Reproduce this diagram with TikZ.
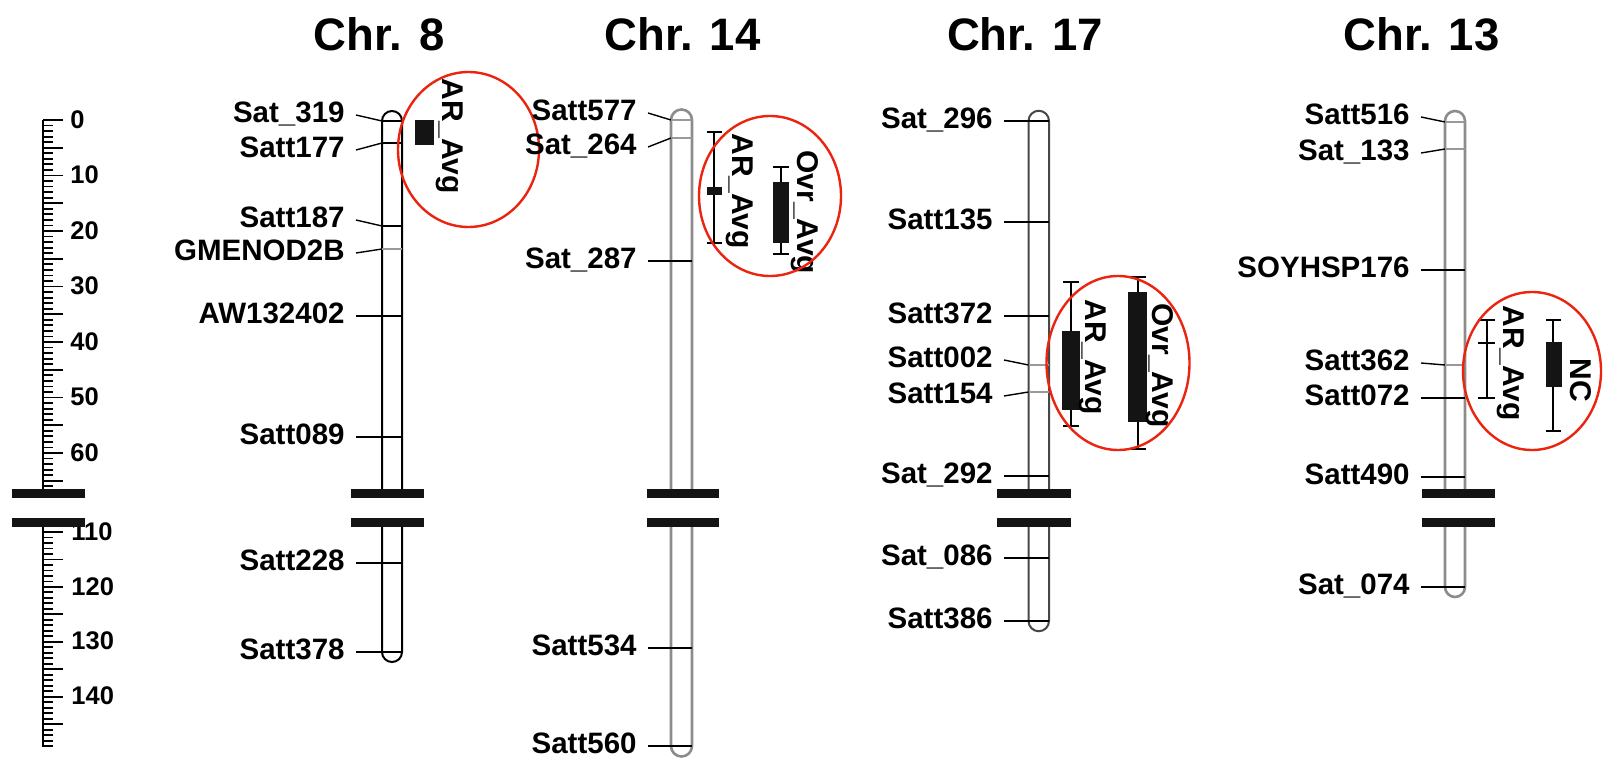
\documentclass[tikz,border=0pt]{standalone}
\usepackage{fontspec}
\setmainfont{Liberation Sans}
\definecolor{hlred}{RGB}{235,35,15}
\tikzset{
  title/.style={font=\bfseries\fontsize{22.75}{26}\selectfont, anchor=base, inner sep=0pt},
  mlabel/.style={font=\bfseries\fontsize{14.75}{17}\selectfont, anchor=east, inner sep=0pt, text height=0.716em, text depth=0pt},
  rlabel/.style={font=\bfseries\fontsize{12.75}{15}\selectfont, anchor=west, inner sep=0pt, text height=0.716em, text depth=0pt},
  qlabel/.style={font=\bfseries\fontsize{15}{17}\selectfont, rotate=-90, anchor=base west, inner sep=0pt},
  chrline/.style={line width=1pt},
  graychr/.style={line width=1.3pt, black!45},
  mline/.style={line width=0.7pt},
  brk/.style={fill=black!92, draw=none},
  qtlbox/.style={fill=black!92, draw=none},
  whisk/.style={line width=0.7pt},
  tick/.style={line width=0.9pt},
  hl/.style={draw=hlred, line width=1.2pt},
}
% marker: id, text, label y, marker y, colour of the line across
\newcommand\mk[5]{%
  \node[mlabel] (#1) at (\LR,#3) {#2};
  \coordinate (#1-l) at (\CL,#4);
  \coordinate (#1-r) at (\CR,#4);
  \draw[mline] ([xshift=5.5pt]#1.east) -- (#1-l);
  \draw[mline,#5] (#1-l) -- (#1-r);
}
\begin{document}
\begin{tikzpicture}[x=0.5pt,y=-0.5pt]
\useasboundingbox (0,0) rectangle (1604,759);

% ---------- titles
\node[title] (t8)  at (379,51)    {Chr. 8};
\node[title] (t14) at (682.5,51)  {Chr. 14};
\node[title] (t17) at (1025,51)   {Chr. 17};
\node[title] (t13) at (1421.5,51) {Chr. 13};

% ---------- scale ruler
\draw[line width=1.3pt] (43,120) -- (43,489);
\draw[line width=1.3pt] (43,522) -- (43,747);
\foreach \c in {0,...,66}{
  \pgfmathsetmacro\yy{120+5.55*\c}
  \pgfmathsetmacro\ll{mod(\c,5)==0 ? 20 : 10}
  \draw[tick] (43,\yy) -- ++(\ll,0);
}
\foreach \c in {109,...,149}{
  \pgfmathsetmacro\yy{532+5.49*(\c-110)}
  \pgfmathsetmacro\ll{mod(\c,5)==0 ? 20 : 10}
  \draw[tick] (43,\yy) -- ++(\ll,0);
}
\foreach \c in {0,10,...,60}{
  \pgfmathsetmacro\yy{121+5.55*\c}
  \node[rlabel] (r\c) at (70,\yy) {\c};
}
\foreach \c in {110,120,130,140}{
  \pgfmathsetmacro\yy{533+5.49*(\c-110)}
  \node[rlabel] (r\c) at (71,\yy) {\c};
}
\fill[brk] (12,489) rectangle (85,498);
\fill[brk] (12,518) rectangle (85,526.5);

% ---------- Chr. 8
\draw[chrline] (382,493) -- (382,121) arc[start angle=180, end angle=360, radius=10] -- (402,493);
\draw[chrline] (382,522) -- (382,652) arc[start angle=180, end angle=0, radius=10] -- (402,522);
\fill[brk] (351,489) rectangle (424,498);
\fill[brk] (351,518) rectangle (424,526.5);
\def\LR{345}\def\CL{382}\def\CR{402}
\mk{s319}{Sat\_319}{115}{121}{black}
\mk{s177}{Satt177}{150}{143}{black}
\mk{s187}{Satt187}{220}{226}{black}
\mk{gmen}{GMENOD2B}{253}{249}{black!40}
\mk{aw13}{AW132402}{316}{316}{black}
\mk{s089}{Satt089}{437}{437}{black}
\mk{s228}{Satt228}{563}{563}{black}
\mk{s378}{Satt378}{652}{652}{black}
% QTL
\fill[qtlbox] (415,120) rectangle (434,145);
\node[qlabel] (q8a) at (442,78) {AR\_Avg};
\draw[hl] (468.5,149.5) ellipse [x radius=70.5, y radius=77.5];

% ---------- Chr. 14
\draw[graychr] (671,493) -- (671,120) arc[start angle=180, end angle=360, radius=10.5] -- (692,493);
\draw[graychr] (671,522) -- (671,746) arc[start angle=180, end angle=0, radius=10.5] -- (692,522);
\fill[brk] (646.5,489) rectangle (719,498);
\fill[brk] (646.5,518) rectangle (719,526.5);
\def\LR{637}\def\CL{671}\def\CR{692}
\mk{s577}{Satt577}{113}{120}{black!40}
\mk{s264}{Sat\_264}{147}{138}{black!40}
\mk{s287}{Sat\_287}{261}{261}{black}
\mk{s534}{Satt534}{648}{648}{black}
\mk{s560}{Satt560}{746}{746}{black}
% QTLs
\draw[whisk] (707,132) -- (722,132) (714,132) -- (714,243) (707,243) -- (722,243);
\fill[qtlbox] (707,187) rectangle (722,195);
\node[qlabel] (q14a) at (732,133) {AR\_Avg};
\draw[whisk] (773,167) -- (789,167) (781,167) -- (781,254) (773,254) -- (789,254);
\fill[qtlbox] (773,182) rectangle (789,243);
\node[qlabel] (q14b) at (797,150) {Ovr\_Avg};
\draw[hl] (770,196) ellipse [x radius=71, y radius=80];

% ---------- Chr. 17
\begin{scope}[black!72]
\draw[chrline] (1028.5,493) -- (1028.5,121) arc[start angle=180, end angle=360, radius=10.25] -- (1049,493);
\draw[chrline] (1028.5,522) -- (1028.5,621) arc[start angle=180, end angle=0, radius=10.25] -- (1049,522);
\end{scope}
\fill[brk] (997,489) rectangle (1071,498);
\fill[brk] (997,518) rectangle (1071,526.5);
\def\LR{993}\def\CL{1028.5}\def\CR{1049}
\mk{s296}{Sat\_296}{121}{121}{black}
\mk{s135}{Satt135}{222}{222}{black}
\mk{s372}{Satt372}{316}{316}{black}
\mk{s002}{Satt002}{360}{365}{black!40}
\mk{s154}{Satt154}{396}{392}{black!40}
\mk{s292}{Sat\_292}{476}{476}{black}
\mk{s086}{Sat\_086}{558}{558}{black}
\mk{s386}{Satt386}{621}{621}{black}
% QTLs
\draw[whisk] (1063,282) -- (1079,282) (1071,282) -- (1071,426) (1063,426) -- (1079,426);
\fill[qtlbox] (1062,331) rectangle (1080,410);
\node[qlabel] (q17a) at (1085,299) {AR\_Avg};
\draw[whisk] (1129,277) -- (1146,277) (1138,277) -- (1138,449) (1129,449) -- (1146,449);
\fill[qtlbox] (1128,292) rectangle (1147,422);
\node[qlabel] (q17b) at (1152,303) {Ovr\_Avg};
\draw[hl] (1118,363) ellipse [x radius=71.5, y radius=87];

% ---------- Chr. 13
\draw[graychr] (1445,493) -- (1445,121) arc[start angle=180, end angle=360, radius=10] -- (1465,493);
\draw[graychr] (1445,522) -- (1445,587) arc[start angle=180, end angle=0, radius=10] -- (1465,522);
\fill[brk] (1422,489) rectangle (1495,498);
\fill[brk] (1422,518) rectangle (1495,526.5);
\def\LR{1410}\def\CL{1445}\def\CR{1465}
\mk{s516}{Satt516}{117}{122}{black!40}
\mk{s133}{Sat\_133}{153}{149}{black!40}
\mk{soy}{SOYHSP176}{270}{270}{black}
\mk{s362}{Satt362}{363}{365}{black!40}
\mk{s072}{Satt072}{398}{398}{black}
\mk{s490}{Satt490}{477}{477}{black}
\mk{s074}{Sat\_074}{587}{587}{black}
% QTLs
\draw[whisk] (1478,320) -- (1495,320) (1487,320) -- (1487,398) (1478,398) -- (1495,398) (1478,343) -- (1495,343);
\node[qlabel] (q13a) at (1503,305) {AR\_Avg};
\draw[whisk] (1546,320) -- (1561,320) (1553,320) -- (1553,431) (1546,431) -- (1561,431);
\fill[qtlbox] (1546,342) rectangle (1562,387);
\node[qlabel] (q13b) at (1570,358) {NC};
\draw[hl] (1532,371) ellipse [x radius=69, y radius=79];
\end{tikzpicture}
\end{document}
